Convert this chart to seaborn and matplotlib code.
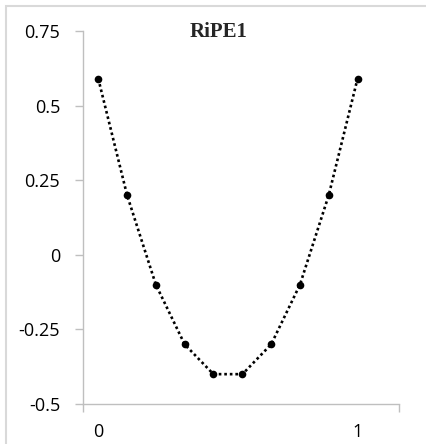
import matplotlib
matplotlib.use("Agg")
import matplotlib.pyplot as plt
import matplotlib.patches as mpatches
import seaborn as sns
import pandas as pd

# Curve samples
x_vals = [0.0, 0.111, 0.222, 0.333, 0.444, 0.556, 0.667, 0.778, 0.889, 1.0]
y_vals = [0.59, 0.20, -0.10, -0.30, -0.40, -0.40, -0.30, -0.10, 0.20, 0.59]
title = "RiPE1"
y_ticks = [0.75, 0.5, 0.25, 0, -0.25, -0.5]
y_tick_labels = ["0.75", "0.5", "0.25", "0", "-0.25", "-0.5"]
x_ticks = [0, 1]
x_tick_labels = ["0", "1"]

sns.set_theme(style="white")
plt.rcParams["font.family"] = ["Open Sans", "DejaVu Sans"]

df = pd.DataFrame({"x": x_vals, "y": y_vals})

fig = plt.figure(figsize=(4.26, 4.44), dpi=100)
ax = fig.add_axes([83 / 426, 1 - 404 / 444, (399 - 83) / 426, (404 - 31) / 444])

sns.lineplot(data=df, x="x", y="y", ax=ax, color="black",
             linestyle=(0, (1, 1.1)), linewidth=1.9,
             marker="o", markersize=5.5, markeredgewidth=0, sort=False)

ax.set_xlim(-0.059, 1.160)
ax.set_ylim(-0.5, 0.75)

axis_grey = "#bfbfbf"
for side in ("top", "right"):
    ax.spines[side].set_visible(False)
for side in ("left", "bottom"):
    ax.spines[side].set_color(axis_grey)
    ax.spines[side].set_linewidth(1.0)

ax.set_yticks(y_ticks)
ax.set_yticklabels(y_tick_labels)
ax.tick_params(axis="y", direction="out", length=6, width=1.0, color=axis_grey,
               labelsize=13, pad=10.5, left=True, labelcolor="black")

ax.set_xticks(x_ticks)
ax.set_xticklabels(x_tick_labels)
ax.tick_params(axis="x", length=0, labelsize=13, pad=14, labelcolor="black")
ax.set_xticks([-0.059, 1.160], minor=True)
ax.tick_params(axis="x", which="minor", direction="out", length=6, width=1.0,
               color=axis_grey, bottom=True)

ax.set_xlabel("")
ax.set_ylabel("")

fig.text(219 / 426, 1 - 32 / 444, title, ha="center", va="center",
         fontsize=15, fontweight="bold", family="Liberation Serif")

# outer chart frame (left and top edges visible)
frame = mpatches.Rectangle((6 / 426, -0.1), 1.2, 1 - 6 / 444 + 0.1,
                           transform=fig.transFigure, fill=False,
                           edgecolor="#d9d9d9", linewidth=1.5, clip_on=False)
fig.patches.append(frame)

fig.savefig("out.png", dpi=100)
